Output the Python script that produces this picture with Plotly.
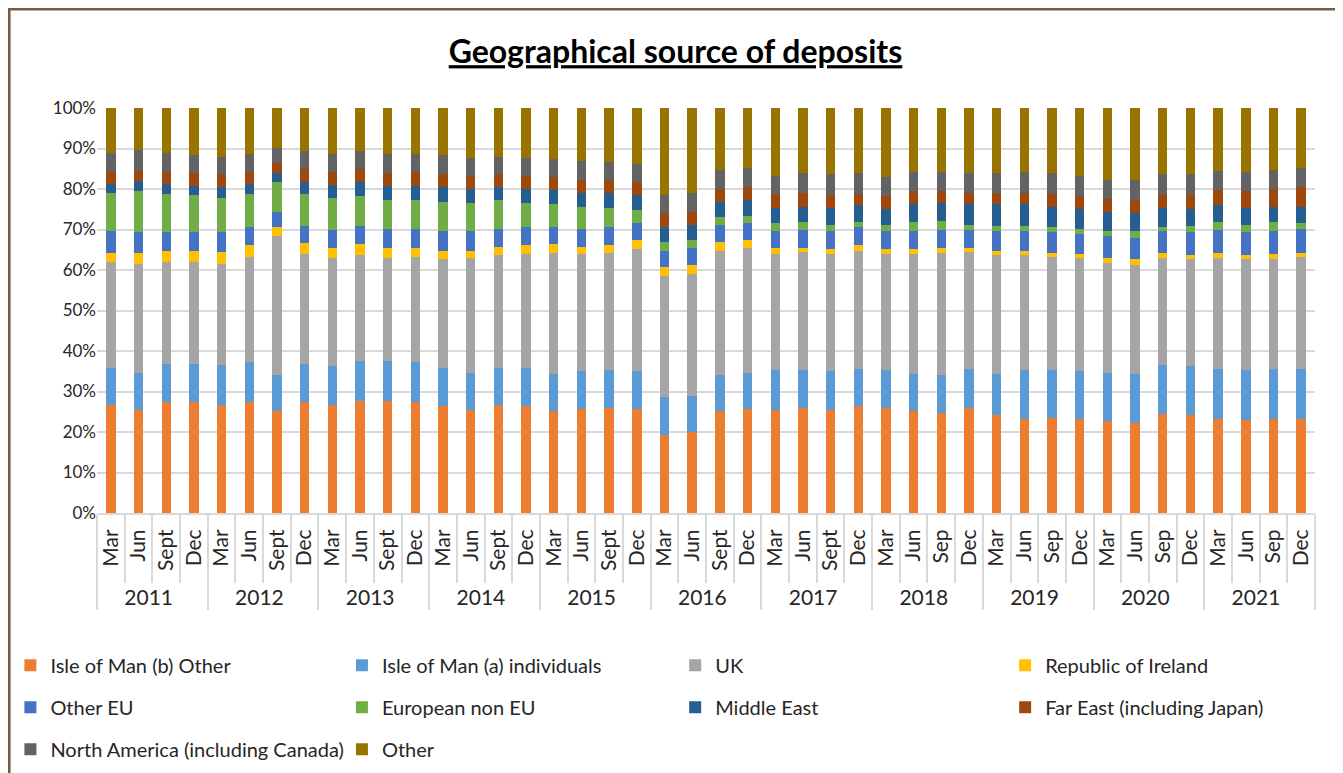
import plotly.graph_objects as go

# Quarter-end observations, 2011 to 2021
years = ["2011", "2012", "2013", "2014", "2015", "2016",
         "2017", "2018", "2019", "2020", "2021"]
quarters = [
    ["Mar", "Jun", "Sept", "Dec"],  # 2011
    ["Mar", "Jun", "Sept", "Dec"],  # 2012
    ["Mar", "Jun", "Sept", "Dec"],  # 2013
    ["Mar", "Jun", "Sept", "Dec"],  # 2014
    ["Mar", "Jun", "Sept", "Dec"],  # 2015
    ["Mar", "Jun", "Sept", "Dec"],  # 2016
    ["Mar", "Jun", "Sept", "Dec"],  # 2017
    ["Mar", "Jun", "Sep", "Dec"],   # 2018
    ["Mar", "Jun", "Sep", "Dec"],   # 2019
    ["Mar", "Jun", "Sep", "Dec"],   # 2020
    ["Mar", "Jun", "Sep", "Dec"],   # 2021
]

# share of deposits, %, chronological
iom_other = [26.6, 25.5, 27.3, 27.3, 26.6, 27.3, 25.1, 27.3, 26.6, 27.6, 27.6,
             27.3, 26.4, 25.5, 26.6, 26.4, 25.1, 25.8, 26.0, 25.8, 19.3, 20.0,
             25.1, 25.8, 25.5, 26.0, 25.5, 26.4, 26.0, 25.1, 24.8, 26.0, 24.1,
             23.1, 23.5, 23.1, 22.6, 22.2, 24.5, 24.1, 23.1, 22.9, 23.1, 23.1]
iom_individuals = [9.3, 9.1, 9.6, 9.6, 9.9, 9.9, 8.9, 9.6, 9.7, 9.9, 9.9,
                   9.9, 9.5, 9.1, 9.3, 9.5, 9.3, 9.2, 9.3, 9.2, 9.3, 8.9,
                   8.9, 8.8, 9.8, 9.3, 9.5, 9.1, 9.3, 9.3, 9.2, 9.5, 10.3,
                   12.2, 11.8, 11.9, 12.0, 12.2, 12.0, 12.2, 12.4, 12.4, 12.4, 12.4]
uk = [26.1, 27.0, 25.1, 25.1, 25.1, 26.0, 34.3, 27.0, 26.6, 26.1, 25.4,
      26.0, 26.7, 28.3, 27.7, 28.0, 29.8, 28.9, 28.9, 30.1, 29.9, 30.2,
      30.8, 30.9, 28.6, 29.2, 28.9, 29.3, 28.6, 29.5, 30.2, 29.0, 29.2,
      28.3, 27.9, 27.9, 27.1, 26.9, 26.4, 26.3, 27.4, 27.3, 27.1, 27.7]
ireland = [2.2, 2.6, 2.8, 2.8, 2.9, 2.9, 2.2, 2.8, 2.6, 2.8, 2.6,
           2.3, 2.2, 1.9, 2.2, 2.2, 2.2, 1.9, 1.9, 2.3, 2.2, 2.2,
           2.0, 1.9, 1.6, 1.0, 1.2, 1.3, 1.2, 1.2, 1.3, 1.0, 1.2,
           1.2, 1.0, 1.0, 1.2, 1.3, 1.3, 1.0, 1.3, 1.0, 1.3, 1.0]
other_eu = [5.4, 5.1, 4.5, 4.5, 4.8, 4.5, 3.9, 4.1, 4.4, 4.4, 4.7,
            4.7, 4.8, 4.8, 4.4, 4.5, 4.2, 4.4, 4.5, 4.1, 4.1, 4.2,
            4.4, 4.1, 4.1, 4.4, 4.5, 4.5, 4.5, 4.5, 4.4, 4.4, 4.8,
            4.8, 5.1, 5.0, 5.4, 5.4, 5.4, 5.7, 5.7, 5.7, 5.7, 6.0]
european_non_eu = [9.5, 10.1, 9.5, 9.2, 8.6, 8.2, 7.3, 8.0, 8.0, 7.4, 7.0,
                   7.0, 7.3, 7.0, 7.0, 6.0, 5.7, 5.4, 4.8, 3.2, 2.0, 1.9,
                   1.9, 1.9, 1.9, 1.9, 1.6, 1.2, 1.6, 2.2, 2.2, 1.3, 1.2,
                   1.2, 1.2, 1.3, 1.3, 1.6, 0.9, 1.5, 1.9, 1.9, 2.2, 1.3]
middle_east = [2.2, 2.6, 2.5, 2.2, 2.5, 2.5, 2.2, 2.9, 3.1, 3.5, 3.5,
               3.5, 3.5, 3.5, 3.2, 3.5, 3.5, 3.5, 3.7, 3.8, 3.8, 3.8,
               3.8, 3.8, 3.8, 3.8, 4.1, 4.2, 3.8, 4.5, 4.5, 5.1, 5.5,
               5.5, 5.1, 4.8, 4.8, 4.4, 4.8, 4.2, 4.2, 4.1, 3.8, 4.1]
far_east = [2.8, 2.5, 2.8, 3.2, 3.2, 2.8, 2.5, 3.2, 3.2, 3.2, 3.2,
            3.5, 3.2, 3.1, 3.2, 3.1, 3.1, 3.2, 3.2, 3.2, 3.4, 3.2,
            3.2, 3.2, 3.5, 3.5, 3.2, 2.8, 3.2, 3.1, 2.8, 2.8, 2.8,
            2.8, 3.2, 3.2, 3.1, 3.2, 3.2, 3.5, 3.8, 4.1, 4.5, 4.8]
north_america = [4.9, 5.1, 4.9, 4.4, 4.4, 4.6, 3.8, 4.4, 4.5, 4.4, 4.8,
                 4.5, 4.7, 4.5, 4.4, 4.5, 4.5, 4.7, 4.4, 4.4, 4.5, 4.7,
                 4.7, 4.7, 4.4, 4.8, 5.1, 5.1, 4.7, 4.8, 4.8, 4.8, 4.8,
                 5.1, 5.1, 5.0, 4.8, 5.1, 5.1, 5.1, 4.7, 4.8, 4.7, 4.7]
other = [11.0, 10.4, 11.0, 11.7, 12.0, 11.3, 9.8, 10.7, 11.3, 10.7, 11.3,
         11.3, 11.7, 12.3, 12.0, 12.3, 12.6, 13.0, 13.3, 13.9, 21.5, 20.9,
         15.2, 14.9, 16.8, 16.1, 16.4, 16.1, 17.1, 15.8, 15.8, 16.1, 16.1,
         15.8, 16.1, 16.8, 17.7, 17.7, 16.4, 16.4, 15.5, 15.8, 15.2, 14.9]

series = [
    ("Isle of Man (b) Other", iom_other, "#ED7D31"),
    ("Isle of Man (a) individuals", iom_individuals, "#5B9BD5"),
    ("UK", uk, "#A5A5A5"),
    ("Republic of Ireland", ireland, "#FFC000"),
    ("Other EU", other_eu, "#4472C4"),
    ("European non EU", european_non_eu, "#70AD47"),
    ("Middle East", middle_east, "#255E91"),
    ("Far East (including Japan)", far_east, "#9E480E"),
    ("North America (including Canada)", north_america, "#636363"),
    ("Other", other, "#997300"),
]

# plotly orders multicategory children by first appearance, so feed the
# points quarter by quarter (Mar..., Jun..., Sept/Sep..., Dec...) to keep
# "Sep" ahead of "Dec" in the 2018-2021 groups
order = [yi * 4 + qi for qi in range(4) for yi in range(len(years))]
x_years = [years[k // 4] for k in order]
x_quarters = [quarters[k // 4][k % 4] for k in order]

font = "Lato, 'Open Sans', sans-serif"
text_col = "#262626"
legend_ids = ["legend", "legend2", "legend3", "legend4"]

fig = go.Figure()
for i, (name, vals, col) in enumerate(series):
    # legend laid out as a 4-column grid, row-major like Excel
    fig.add_trace(go.Bar(
        x=[x_years, x_quarters], y=[vals[k] for k in order], name=name,
        marker=dict(color=col, line=dict(width=0)),
        legend=legend_ids[i % 4], legendgroup=name,
    ))

legend_common = dict(
    orientation="v", xanchor="left", yanchor="top", y=-0.328,
    traceorder="grouped", tracegroupgap=13, itemwidth=30,
    font=dict(family=font, size=20, color=text_col),
    bgcolor="rgba(0,0,0,0)", itemclick=False, itemdoubleclick=False,
)
legend_x = [-0.0711, 0.2011, 0.4747, 0.7456]

# page body adds an 8px margin, so the figure is 8px smaller than the window
fig.update_layout(
    barmode="stack",
    bargap=0.66,
    width=1335, height=765,
    margin=dict(l=89, r=28, t=100, b=260, autoexpand=False),
    paper_bgcolor="white",
    plot_bgcolor="white",
    font=dict(family=font, size=18, color=text_col),
    title=dict(
        text="<b><u>Geographical source of deposits</u></b>",
        x=0.5, xanchor="center", y=0.9425, yanchor="middle",
        font=dict(family=font, size=32, color="black"),
    ),
    yaxis=dict(
        range=[0, 100], dtick=10, ticksuffix="%",
        showgrid=True, gridcolor="#D9D9D9", gridwidth=1.5,
        zeroline=False, showline=False, ticks="",
        tickfont=dict(size=17, color=text_col),
    ),
    xaxis=dict(
        type="multicategory",
        tickangle=-90,
        showline=True, linecolor="#D9D9D9", linewidth=2,
        ticks="outside", tickson="boundaries", ticklen=68,
        tickcolor="#D9D9D9", tickwidth=1.5, ticklabelstandoff=6,
        showdividers=True, dividercolor="#D9D9D9", dividerwidth=2,
        tickfont=dict(size=21, color=text_col),
    ),
    showlegend=True,
    shapes=[dict(
        type="rect", xref="paper", yref="paper",
        x0=-0.0722, x1=1.0197, y0=-0.7, y1=1.2444,
        line=dict(color="#7B5B3A", width=3), fillcolor="rgba(0,0,0,0)",
        layer="below",
    )],
)
for lid, lx in zip(legend_ids, legend_x):
    fig.update_layout({lid: dict(legend_common, x=lx)})

fig.write_html("out.html")
